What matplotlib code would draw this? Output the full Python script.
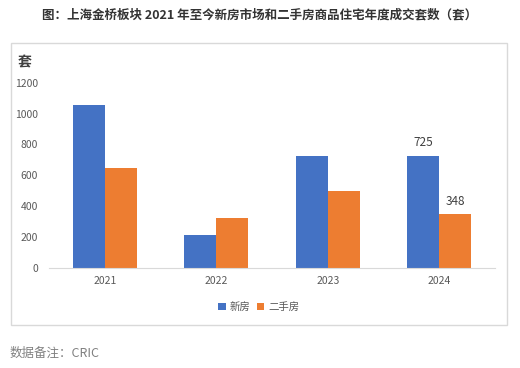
import matplotlib
matplotlib.use("Agg")
import matplotlib.pyplot as plt
import numpy as np
from matplotlib.patches import Rectangle

plt.rcParams['font.family'] = ['Noto Sans CJK SC', 'DejaVu Sans']

years = ["2021", "2022", "2023", "2024"]
new_homes = [1053, 214, 725, 725]
second_hand = [649, 324, 499, 348]
series_names = ["新房", "二手房"]
yticks = [0, 200, 400, 600, 800, 1000, 1200]

fig = plt.figure(figsize=(5.2, 3.68), dpi=100)
# chart border box
fig.patches.append(Rectangle((11/520, 1 - 325/368), (507-11)/520, (325-42.5)/368,
                             transform=fig.transFigure, fill=False,
                             edgecolor='#d9d9d9', linewidth=1.0))
ax = fig.add_axes([49/520, 1 - 268/368, (495-49)/520, (268-82.7)/368])

x = np.arange(len(years))
w = 0.287
b1 = ax.bar(x - w/2, new_homes, w, color='#4472C4', label=series_names[0])
b2 = ax.bar(x + w/2, second_hand, w, color='#ED7D31', label=series_names[1])

ax.text(x[3] - w/2, new_homes[3] + 85, str(new_homes[3]), ha='center', va='center',
        fontsize=8.5, color='#404040')
ax.text(x[3] + w/2, second_hand[3] + 85, str(second_hand[3]), ha='center', va='center',
        fontsize=8.5, color='#404040')

ax.set_xlim(-0.5, 3.5)
ax.set_ylim(0, 1200)
ax.set_yticks(yticks)
ax.set_yticklabels([str(v) for v in yticks])
ax.set_xticks(x)
ax.set_xticklabels(years)
for s in ['top', 'right', 'left']:
    ax.spines[s].set_visible(False)
ax.spines['bottom'].set_color('#d9d9d9')
ax.tick_params(axis='both', length=0, labelsize=7.5, labelcolor='#595959')
ax.tick_params(axis='y', pad=8)
ax.tick_params(axis='x', pad=6)

fig.text(18/520, 1 - 62/368, "套", fontsize=10, fontweight='bold', color='#404040',
         ha='left', va='center')

fig.text(0.5, 1 - 15/368, "图：上海金桥板块 2021 年至今新房市场和二手房商品住宅年度成交套数（套）",
         ha='center', va='center', fontsize=9, fontweight='bold', color='#333333')

leg = fig.legend(handles=[b1, b2], labels=series_names, loc='center',
                 bbox_to_anchor=(259/520, 1 - 307/368), ncol=2, frameon=False,
                 fontsize=7.5, handlelength=0.7, handleheight=0.7, handletextpad=0.4,
                 columnspacing=0.6, labelcolor='#595959')

fig.text(10/520, 1 - 353/368, "数据备注：CRIC", ha='left', va='center',
         fontsize=9, color='#808080')

fig.savefig("out.png", dpi=100)
